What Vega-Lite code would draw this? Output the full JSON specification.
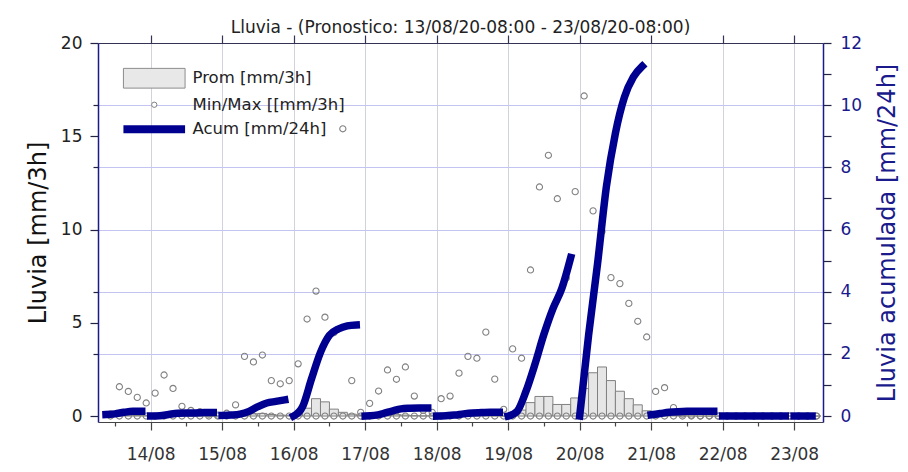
{
  "$schema": "https://vega.github.io/schema/vega-lite/v6.json",
  "autosize": {"type": "none"},
  "width": 725,
  "height": 379,
  "padding": {"left": 98, "top": 43, "right": 85, "bottom": 50},
  "background": "white",
  "title": {
    "text": "Lluvia - (Pronostico: 13/08/20-08:00 - 23/08/20-08:00)",
    "font": "DejaVu Sans", "fontSize": 17, "fontWeight": "normal", "color": "#222222",
    "anchor": "middle", "offset": -3
  },
  "datasets": {
    "tri": [
      {"hora": "2020-08-13T10:30:00Z", "prom": 0.01, "min": 0, "max": 0.1},
      {"hora": "2020-08-13T13:30:00Z", "prom": 0.04, "min": 0, "max": 1.57},
      {"hora": "2020-08-13T16:30:00Z", "prom": 0.05, "min": 0, "max": 1.32},
      {"hora": "2020-08-13T19:30:00Z", "prom": 0.03, "min": 0, "max": 1.0},
      {"hora": "2020-08-13T22:30:00Z", "prom": 0.02, "min": 0, "max": 0.7},
      {"hora": "2020-08-14T01:30:00Z", "prom": 0.0, "min": 0, "max": 1.23},
      {"hora": "2020-08-14T04:30:00Z", "prom": 0.02, "min": 0, "max": 2.2},
      {"hora": "2020-08-14T07:30:00Z", "prom": 0.04, "min": 0, "max": 1.48},
      {"hora": "2020-08-14T10:30:00Z", "prom": 0.03, "min": 0, "max": 0.52},
      {"hora": "2020-08-14T13:30:00Z", "prom": 0.01, "min": 0, "max": 0.3},
      {"hora": "2020-08-14T16:30:00Z", "prom": 0.01, "min": 0, "max": 0.23},
      {"hora": "2020-08-14T19:30:00Z", "prom": 0.0, "min": 0, "max": 0.1},
      {"hora": "2020-08-14T22:30:00Z", "prom": 0.0, "min": 0, "max": 0.05},
      {"hora": "2020-08-15T01:30:00Z", "prom": 0.01, "min": 0, "max": 0.15},
      {"hora": "2020-08-15T04:30:00Z", "prom": 0.02, "min": 0, "max": 0.6},
      {"hora": "2020-08-15T07:30:00Z", "prom": 0.06, "min": 0, "max": 3.2},
      {"hora": "2020-08-15T10:30:00Z", "prom": 0.12, "min": 0, "max": 2.9},
      {"hora": "2020-08-15T13:30:00Z", "prom": 0.14, "min": 0, "max": 3.27},
      {"hora": "2020-08-15T16:30:00Z", "prom": 0.08, "min": 0, "max": 1.9},
      {"hora": "2020-08-15T19:30:00Z", "prom": 0.05, "min": 0, "max": 1.73},
      {"hora": "2020-08-15T22:30:00Z", "prom": 0.04, "min": 0, "max": 1.9},
      {"hora": "2020-08-16T01:30:00Z", "prom": 0.1, "min": 0, "max": 2.8},
      {"hora": "2020-08-16T04:30:00Z", "prom": 0.42, "min": 0, "max": 5.2},
      {"hora": "2020-08-16T07:30:00Z", "prom": 0.93, "min": 0, "max": 6.7},
      {"hora": "2020-08-16T10:30:00Z", "prom": 0.76, "min": 0, "max": 5.3},
      {"hora": "2020-08-16T13:30:00Z", "prom": 0.37, "min": 0, "max": 4.47},
      {"hora": "2020-08-16T16:30:00Z", "prom": 0.2, "min": 0, "max": 15.4},
      {"hora": "2020-08-16T19:30:00Z", "prom": 0.1, "min": 0, "max": 1.9},
      {"hora": "2020-08-16T22:30:00Z", "prom": 0.05, "min": 0, "max": 0.2},
      {"hora": "2020-08-17T01:30:00Z", "prom": 0.01, "min": 0, "max": 0.68},
      {"hora": "2020-08-17T04:30:00Z", "prom": 0.03, "min": 0, "max": 1.34},
      {"hora": "2020-08-17T07:30:00Z", "prom": 0.06, "min": 0, "max": 2.47},
      {"hora": "2020-08-17T10:30:00Z", "prom": 0.07, "min": 0, "max": 1.97},
      {"hora": "2020-08-17T13:30:00Z", "prom": 0.05, "min": 0, "max": 2.63},
      {"hora": "2020-08-17T16:30:00Z", "prom": 0.02, "min": 0, "max": 1.07},
      {"hora": "2020-08-17T19:30:00Z", "prom": 0.01, "min": 0, "max": 0.3},
      {"hora": "2020-08-17T22:30:00Z", "prom": 0.01, "min": 0, "max": 0.2},
      {"hora": "2020-08-18T01:30:00Z", "prom": 0.0, "min": 0, "max": 0.93},
      {"hora": "2020-08-18T04:30:00Z", "prom": 0.01, "min": 0, "max": 1.07},
      {"hora": "2020-08-18T07:30:00Z", "prom": 0.03, "min": 0, "max": 2.3},
      {"hora": "2020-08-18T10:30:00Z", "prom": 0.03, "min": 0, "max": 3.2},
      {"hora": "2020-08-18T13:30:00Z", "prom": 0.02, "min": 0, "max": 3.1},
      {"hora": "2020-08-18T16:30:00Z", "prom": 0.02, "min": 0, "max": 4.5},
      {"hora": "2020-08-18T19:30:00Z", "prom": 0.01, "min": 0, "max": 1.98},
      {"hora": "2020-08-18T22:30:00Z", "prom": 0.0, "min": 0, "max": 0.36},
      {"hora": "2020-08-19T01:30:00Z", "prom": 0.05, "min": 0, "max": 3.6},
      {"hora": "2020-08-19T04:30:00Z", "prom": 0.32, "min": 0, "max": 3.1},
      {"hora": "2020-08-19T07:30:00Z", "prom": 0.72, "min": 0, "max": 7.83},
      {"hora": "2020-08-19T10:30:00Z", "prom": 1.05, "min": 0, "max": 12.28},
      {"hora": "2020-08-19T13:30:00Z", "prom": 1.05, "min": 0, "max": 13.98},
      {"hora": "2020-08-19T16:30:00Z", "prom": 0.62, "min": 0, "max": 11.65},
      {"hora": "2020-08-19T19:30:00Z", "prom": 0.62, "min": 0, "max": 7.4},
      {"hora": "2020-08-19T22:30:00Z", "prom": 0.97, "min": 0, "max": 12.03},
      {"hora": "2020-08-20T01:30:00Z", "prom": 1.48, "min": 0, "max": 17.16},
      {"hora": "2020-08-20T04:30:00Z", "prom": 2.32, "min": 0, "max": 11.0},
      {"hora": "2020-08-20T07:30:00Z", "prom": 2.63, "min": 0, "max": 9.9},
      {"hora": "2020-08-20T10:30:00Z", "prom": 1.9, "min": 0, "max": 7.42},
      {"hora": "2020-08-20T13:30:00Z", "prom": 1.33, "min": 0, "max": 7.1},
      {"hora": "2020-08-20T16:30:00Z", "prom": 0.93, "min": 0, "max": 6.04},
      {"hora": "2020-08-20T19:30:00Z", "prom": 0.6, "min": 0, "max": 5.08},
      {"hora": "2020-08-20T22:30:00Z", "prom": 0.28, "min": 0, "max": 4.24},
      {"hora": "2020-08-21T01:30:00Z", "prom": 0.04, "min": 0, "max": 1.32},
      {"hora": "2020-08-21T04:30:00Z", "prom": 0.05, "min": 0, "max": 1.52},
      {"hora": "2020-08-21T07:30:00Z", "prom": 0.03, "min": 0, "max": 0.45},
      {"hora": "2020-08-21T10:30:00Z", "prom": 0.02, "min": 0, "max": 0.1},
      {"hora": "2020-08-21T13:30:00Z", "prom": 0.01, "min": 0, "max": 0.05},
      {"hora": "2020-08-21T16:30:00Z", "prom": 0.0, "min": 0, "max": 0.0},
      {"hora": "2020-08-21T19:30:00Z", "prom": 0.0, "min": 0, "max": 0.0},
      {"hora": "2020-08-21T22:30:00Z", "prom": 0.0, "min": 0, "max": 0.0},
      {"hora": "2020-08-22T01:30:00Z", "prom": 0.0, "min": 0, "max": 0.0},
      {"hora": "2020-08-22T04:30:00Z", "prom": 0.0, "min": 0, "max": 0.0},
      {"hora": "2020-08-22T07:30:00Z", "prom": 0.0, "min": 0, "max": 0.0},
      {"hora": "2020-08-22T10:30:00Z", "prom": 0.0, "min": 0, "max": 0.0},
      {"hora": "2020-08-22T13:30:00Z", "prom": 0.0, "min": 0, "max": 0.0},
      {"hora": "2020-08-22T16:30:00Z", "prom": 0.0, "min": 0, "max": 0.0},
      {"hora": "2020-08-22T19:30:00Z", "prom": 0.0, "min": 0, "max": 0.0},
      {"hora": "2020-08-22T22:30:00Z", "prom": 0.0, "min": 0, "max": 0.0},
      {"hora": "2020-08-23T01:30:00Z", "prom": 0.0, "min": 0, "max": 0.0},
      {"hora": "2020-08-23T04:30:00Z", "prom": 0.0, "min": 0, "max": 0.0},
      {"hora": "2020-08-23T07:30:00Z", "prom": 0.0, "min": 0, "max": 0.0}
    ],
    "acum": [
      {"hora": "2020-08-13T09:00:00Z", "dia": "13/08", "acum": 0.05},
      {"hora": "2020-08-13T12:00:00Z", "dia": "13/08", "acum": 0.07},
      {"hora": "2020-08-13T15:00:00Z", "dia": "13/08", "acum": 0.12},
      {"hora": "2020-08-13T18:00:00Z", "dia": "13/08", "acum": 0.15},
      {"hora": "2020-08-13T21:00:00Z", "dia": "13/08", "acum": 0.15},
      {"hora": "2020-08-14T00:00:00Z", "dia": "14/08", "acum": 0.0},
      {"hora": "2020-08-14T03:00:00Z", "dia": "14/08", "acum": 0.01},
      {"hora": "2020-08-14T06:00:00Z", "dia": "14/08", "acum": 0.05},
      {"hora": "2020-08-14T09:00:00Z", "dia": "14/08", "acum": 0.09},
      {"hora": "2020-08-14T12:00:00Z", "dia": "14/08", "acum": 0.1},
      {"hora": "2020-08-14T15:00:00Z", "dia": "14/08", "acum": 0.1},
      {"hora": "2020-08-14T18:00:00Z", "dia": "14/08", "acum": 0.11},
      {"hora": "2020-08-14T21:00:00Z", "dia": "14/08", "acum": 0.11},
      {"hora": "2020-08-15T00:00:00Z", "dia": "15/08", "acum": 0.02},
      {"hora": "2020-08-15T03:00:00Z", "dia": "15/08", "acum": 0.03},
      {"hora": "2020-08-15T06:00:00Z", "dia": "15/08", "acum": 0.06},
      {"hora": "2020-08-15T09:00:00Z", "dia": "15/08", "acum": 0.15},
      {"hora": "2020-08-15T12:00:00Z", "dia": "15/08", "acum": 0.3},
      {"hora": "2020-08-15T15:00:00Z", "dia": "15/08", "acum": 0.42},
      {"hora": "2020-08-15T18:00:00Z", "dia": "15/08", "acum": 0.47},
      {"hora": "2020-08-15T21:00:00Z", "dia": "15/08", "acum": 0.52},
      {"hora": "2020-08-16T00:00:00Z", "dia": "16/08", "acum": 0.0},
      {"hora": "2020-08-16T03:00:00Z", "dia": "16/08", "acum": 0.3},
      {"hora": "2020-08-16T06:00:00Z", "dia": "16/08", "acum": 1.2},
      {"hora": "2020-08-16T09:00:00Z", "dia": "16/08", "acum": 2.05},
      {"hora": "2020-08-16T12:00:00Z", "dia": "16/08", "acum": 2.6},
      {"hora": "2020-08-16T15:00:00Z", "dia": "16/08", "acum": 2.8},
      {"hora": "2020-08-16T18:00:00Z", "dia": "16/08", "acum": 2.9},
      {"hora": "2020-08-16T21:00:00Z", "dia": "16/08", "acum": 2.93},
      {"hora": "2020-08-17T00:00:00Z", "dia": "17/08", "acum": 0.0},
      {"hora": "2020-08-17T03:00:00Z", "dia": "17/08", "acum": 0.02},
      {"hora": "2020-08-17T06:00:00Z", "dia": "17/08", "acum": 0.08},
      {"hora": "2020-08-17T09:00:00Z", "dia": "17/08", "acum": 0.16},
      {"hora": "2020-08-17T12:00:00Z", "dia": "17/08", "acum": 0.23},
      {"hora": "2020-08-17T15:00:00Z", "dia": "17/08", "acum": 0.25},
      {"hora": "2020-08-17T18:00:00Z", "dia": "17/08", "acum": 0.26},
      {"hora": "2020-08-17T21:00:00Z", "dia": "17/08", "acum": 0.26},
      {"hora": "2020-08-18T00:00:00Z", "dia": "18/08", "acum": 0.0},
      {"hora": "2020-08-18T03:00:00Z", "dia": "18/08", "acum": 0.01},
      {"hora": "2020-08-18T06:00:00Z", "dia": "18/08", "acum": 0.03},
      {"hora": "2020-08-18T09:00:00Z", "dia": "18/08", "acum": 0.07},
      {"hora": "2020-08-18T12:00:00Z", "dia": "18/08", "acum": 0.1},
      {"hora": "2020-08-18T15:00:00Z", "dia": "18/08", "acum": 0.11},
      {"hora": "2020-08-18T18:00:00Z", "dia": "18/08", "acum": 0.12},
      {"hora": "2020-08-18T21:00:00Z", "dia": "18/08", "acum": 0.12},
      {"hora": "2020-08-19T00:00:00Z", "dia": "19/08", "acum": 0.0},
      {"hora": "2020-08-19T03:00:00Z", "dia": "19/08", "acum": 0.15},
      {"hora": "2020-08-19T06:00:00Z", "dia": "19/08", "acum": 0.8},
      {"hora": "2020-08-19T09:00:00Z", "dia": "19/08", "acum": 1.67},
      {"hora": "2020-08-19T12:00:00Z", "dia": "19/08", "acum": 2.63},
      {"hora": "2020-08-19T15:00:00Z", "dia": "19/08", "acum": 3.45},
      {"hora": "2020-08-19T18:00:00Z", "dia": "19/08", "acum": 4.1},
      {"hora": "2020-08-19T21:00:00Z", "dia": "19/08", "acum": 5.1},
      {"hora": "2020-08-20T00:00:00Z", "dia": "20/08", "acum": 0.0},
      {"hora": "2020-08-20T03:00:00Z", "dia": "20/08", "acum": 2.6},
      {"hora": "2020-08-20T06:00:00Z", "dia": "20/08", "acum": 4.9},
      {"hora": "2020-08-20T09:00:00Z", "dia": "20/08", "acum": 7.4},
      {"hora": "2020-08-20T12:00:00Z", "dia": "20/08", "acum": 9.1},
      {"hora": "2020-08-20T15:00:00Z", "dia": "20/08", "acum": 10.25},
      {"hora": "2020-08-20T18:00:00Z", "dia": "20/08", "acum": 10.9},
      {"hora": "2020-08-20T21:00:00Z", "dia": "20/08", "acum": 11.25},
      {"hora": "2020-08-21T00:00:00Z", "dia": "21/08", "acum": 0.04},
      {"hora": "2020-08-21T03:00:00Z", "dia": "21/08", "acum": 0.08},
      {"hora": "2020-08-21T06:00:00Z", "dia": "21/08", "acum": 0.12},
      {"hora": "2020-08-21T09:00:00Z", "dia": "21/08", "acum": 0.14},
      {"hora": "2020-08-21T12:00:00Z", "dia": "21/08", "acum": 0.15},
      {"hora": "2020-08-21T15:00:00Z", "dia": "21/08", "acum": 0.15},
      {"hora": "2020-08-21T18:00:00Z", "dia": "21/08", "acum": 0.15},
      {"hora": "2020-08-21T21:00:00Z", "dia": "21/08", "acum": 0.15},
      {"hora": "2020-08-22T00:00:00Z", "dia": "22/08", "acum": 0.0},
      {"hora": "2020-08-22T03:00:00Z", "dia": "22/08", "acum": 0.0},
      {"hora": "2020-08-22T06:00:00Z", "dia": "22/08", "acum": 0.0},
      {"hora": "2020-08-22T09:00:00Z", "dia": "22/08", "acum": 0.0},
      {"hora": "2020-08-22T12:00:00Z", "dia": "22/08", "acum": 0.0},
      {"hora": "2020-08-22T15:00:00Z", "dia": "22/08", "acum": 0.0},
      {"hora": "2020-08-22T18:00:00Z", "dia": "22/08", "acum": 0.0},
      {"hora": "2020-08-22T21:00:00Z", "dia": "22/08", "acum": 0.0},
      {"hora": "2020-08-23T00:00:00Z", "dia": "23/08", "acum": 0.0},
      {"hora": "2020-08-23T03:00:00Z", "dia": "23/08", "acum": 0.0},
      {"hora": "2020-08-23T06:00:00Z", "dia": "23/08", "acum": 0.0}
    ]
  },
  "layer": [
    {
      "data": {"name": "tri"},
      "mark": {"type": "bar", "size": 9, "fill": "#e6e6e6", "stroke": "#808080", "strokeWidth": 1},
      "encoding": {
        "x": {"field": "hora", "type": "temporal",
          "scale": {"type": "utc", "nice": false, "domain": [{"year": 2020, "month": 8, "date": 13, "hours": 8, "utc": true}, {"year": 2020, "month": 8, "date": 23, "hours": 8, "utc": true}]},
          "axis": {"orient": "bottom", "title": null,
            "values": [{"year": 2020, "month": 8, "date": 14, "utc": true}, {"year": 2020, "month": 8, "date": 15, "utc": true}, {"year": 2020, "month": 8, "date": 16, "utc": true}, {"year": 2020, "month": 8, "date": 17, "utc": true}, {"year": 2020, "month": 8, "date": 18, "utc": true}, {"year": 2020, "month": 8, "date": 19, "utc": true}, {"year": 2020, "month": 8, "date": 20, "utc": true}, {"year": 2020, "month": 8, "date": 21, "utc": true}, {"year": 2020, "month": 8, "date": 22, "utc": true}, {"year": 2020, "month": 8, "date": 23, "utc": true}],
            "labelExpr": "utcFormat(datum.value, '%d/%m')",
            "labelFont": "DejaVu Sans", "labelFontSize": 17, "labelColor": "#333333", "labelPadding": 16,
            "labelFlush": false, "labelOverlap": false,
            "domainColor": "#444444", "domainWidth": 1.2,
            "tickColor": "#444444", "tickWidth": 1.2, "tickSize": 8,
            "grid": true, "gridColor": "#d2d2dc", "gridWidth": 1
          }
        },
        "y": {"field": "prom", "type": "quantitative",
          "scale": {"domain": [-0.32, 20], "nice": false, "zero": false},
          "axis": {"orient": "left", "title": "Lluvia [mm/3h]",
            "values": [0, 3.3333, 5, 6.6667, 10, 13.3333, 15, 16.6667, 20],
            "labelExpr": "datum.value % 5 == 0 ? datum.label : ''",
            "labelFont": "DejaVu Sans", "labelFontSize": 17, "labelColor": "#222222", "labelPadding": 8,
            "titleFont": "DejaVu Sans", "titleFontSize": 24, "titleFontWeight": "normal", "titleColor": "#111111", "titlePadding": 10,
            "domainColor": "#1a1a8c", "domainWidth": 1.5,
            "tickColor": "#222244", "tickWidth": 1.2,
            "tickSize": {"condition": {"test": "datum.value % 5 == 0", "value": 8}, "value": 5},
            "grid": false
          }
        },
        "y2": {"datum": 0}
      }
    },
    {
      "data": {"name": "tri"},
      "transform": [{"fold": ["min", "max"], "as": ["tipo", "valor"]}],
      "mark": {"type": "point", "shape": "circle", "filled": false, "size": 38, "strokeWidth": 1.1, "opacity": 1},
      "encoding": {
        "x": {"field": "hora", "type": "temporal", "scale": {"type": "utc"},
          "axis": {"orient": "bottom", "title": null, "labels": false, "domain": false, "grid": false,
            "values": [{"year": 2020, "month": 8, "date": 13, "hours": 12, "utc": true}, {"year": 2020, "month": 8, "date": 14, "hours": 12, "utc": true}, {"year": 2020, "month": 8, "date": 15, "hours": 12, "utc": true}, {"year": 2020, "month": 8, "date": 16, "hours": 12, "utc": true}, {"year": 2020, "month": 8, "date": 17, "hours": 12, "utc": true}, {"year": 2020, "month": 8, "date": 18, "hours": 12, "utc": true}, {"year": 2020, "month": 8, "date": 19, "hours": 12, "utc": true}, {"year": 2020, "month": 8, "date": 20, "hours": 12, "utc": true}, {"year": 2020, "month": 8, "date": 21, "hours": 12, "utc": true}, {"year": 2020, "month": 8, "date": 22, "hours": 12, "utc": true}],
            "tickColor": "#444444", "tickWidth": 1.2, "tickSize": 4
          }
        },
        "y": {"field": "valor", "type": "quantitative",
          "scale": {"domain": [-0.32, 20], "nice": false, "zero": false},
          "axis": null
        },
        "color": {"datum": "Min/Max [[mm/3h]", "type": "nominal",
          "scale": {"domain": ["Prom [mm/3h]", "Min/Max [[mm/3h]", "Acum [mm/24h]"], "range": ["#8c8c8c", "#808080", "#000090"]},
          "legend": {
            "orient": "none", "legendX": 48, "legendY": 27, "title": null, "padding": 0,
            "labelFont": "DejaVu Sans", "labelFontSize": 16.5, "labelColor": "#222222", "labelOffset": 30,
            "rowPadding": 7.5, "symbolSize": 100, "symbolStrokeWidth": 1.5, "labelLimit": 400,
            "encoding": {
              "symbols": {
                "shape": {"value": {"expr": "datum.value === 'Prom [mm/3h]' ? 'M-1,-0.32H1V0.32H-1Z' : datum.value === 'Acum [mm/24h]' ? 'M-1,0H1' : 'circle'"}},
                "size": {"value": {"expr": "datum.value === 'Min/Max [[mm/3h]' ? 28 : 3800"}},
                "fill": {"value": {"expr": "datum.value === 'Prom [mm/3h]' ? '#e8e8e8' : '#ffffff'"}},
                "strokeWidth": {"value": {"expr": "datum.value === 'Acum [mm/24h]' ? 8 : 1"}},
                "strokeJoin": {"value": "round"},
                "strokeCap": {"value": "butt"},
                "opacity": {"value": 1},
                "strokeOpacity": {"value": 1},
                "fillOpacity": {"value": 1}
              }
            }
          }
        }
      }
    },
    {
      "data": {"name": "acum"},
      "mark": {"type": "line", "strokeWidth": 7.5, "strokeCap": "square", "interpolate": "monotone"},
      "encoding": {
        "x": {"field": "hora", "type": "temporal", "scale": {"type": "utc"},
          "axis": {"orient": "top", "title": null, "labels": false, "grid": false,
            "values": [{"year": 2020, "month": 8, "date": 14, "utc": true}, {"year": 2020, "month": 8, "date": 15, "utc": true}, {"year": 2020, "month": 8, "date": 16, "utc": true}, {"year": 2020, "month": 8, "date": 17, "utc": true}, {"year": 2020, "month": 8, "date": 18, "utc": true}, {"year": 2020, "month": 8, "date": 19, "utc": true}, {"year": 2020, "month": 8, "date": 20, "utc": true}, {"year": 2020, "month": 8, "date": 21, "utc": true}, {"year": 2020, "month": 8, "date": 22, "utc": true}, {"year": 2020, "month": 8, "date": 23, "utc": true}],
            "domainColor": "#333355", "domainWidth": 1.2,
            "tickColor": "#333355", "tickWidth": 1.2, "tickSize": 8
          }
        },
        "y": {"field": "acum", "type": "quantitative",
          "scale": {"domain": [-0.192, 12], "nice": false, "zero": false},
          "axis": {"orient": "right", "title": "Lluvia acumulada [mm/24h]",
            "values": [0, 1, 2, 3, 4, 5, 6, 7, 8, 9, 10, 11, 12],
            "labelExpr": "datum.value % 2 == 0 ? datum.label : ''",
            "labelFont": "DejaVu Sans", "labelFontSize": 17, "labelColor": "#1a1a8c", "labelPadding": 9,
            "titleFont": "DejaVu Sans", "titleFontSize": 24, "titleFontWeight": "normal", "titleColor": "#1a1a8c",
            "titleAngle": 270, "titleBaseline": "top", "titlePadding": 14,
            "domainColor": "#1a1a8c", "domainWidth": 1.5,
            "tickColor": "#222244", "tickWidth": 1.2, "tickSize": 8,
            "grid": true, "gridColor": "#c4c4f2", "gridWidth": 1,
            "gridOpacity": {"condition": {"test": "datum.value % 2 == 0 && datum.value > 0 && datum.value < 12", "value": 1}, "value": 0}
          }
        },
        "detail": {"field": "dia", "type": "nominal"},
        "color": {"datum": "Acum [mm/24h]", "type": "nominal"}
      }
    }
  ],
  "resolve": {"scale": {"y": "independent"}, "axis": {"x": "independent"}},
  "config": {"view": {"stroke": null}, "font": "DejaVu Sans"}
}
